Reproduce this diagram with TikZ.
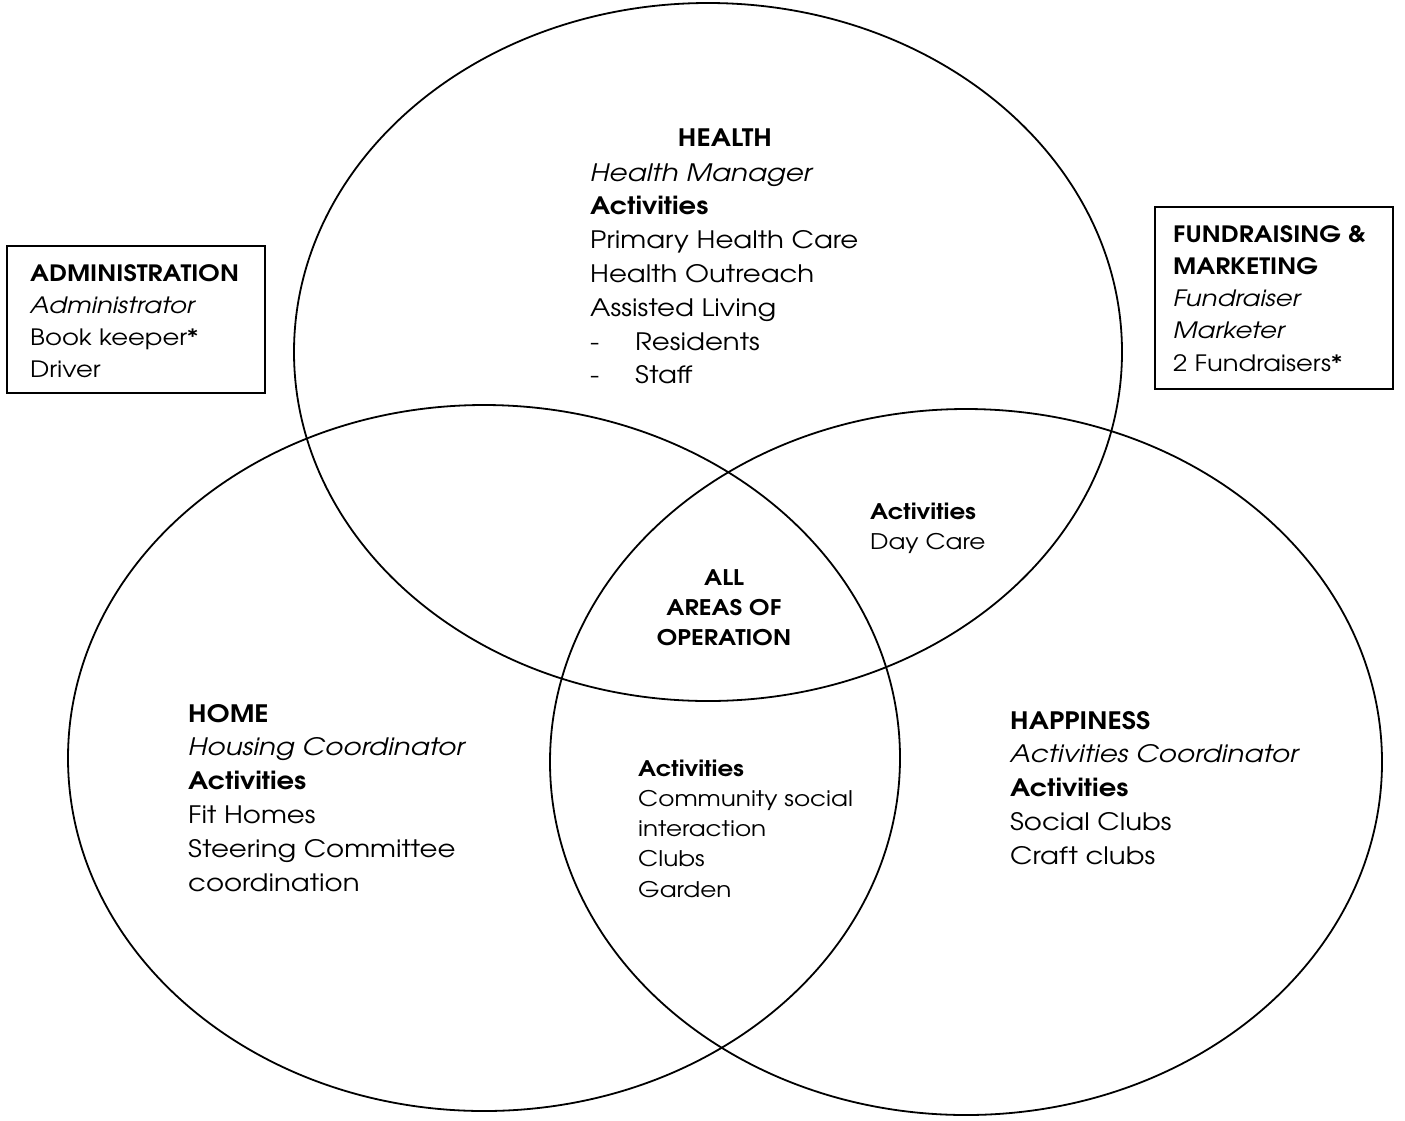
\documentclass[tikz,border=0pt]{standalone}
\usepackage{fontspec}
\setmainfont{texgyreadventor}[Extension=.otf, UprightFont=*-regular, BoldFont=*-bold, ItalicFont=*-italic, BoldItalicFont=*-bolditalic,
  UprightFeatures={FakeStretch=1.15}, ItalicFeatures={FakeStretch=1.16}, BoldFeatures={FakeStretch=1.14}]
\begin{document}
\begin{tikzpicture}[x=1pt,y=-1pt,
  ring/.style={line width=1.8pt},
  frame/.style={line width=1.4pt},
  bigtxt/.style={inner sep=0pt, anchor=base west, font=\fontsize{24}{33.8}\selectfont},
  midtxt/.style={inner sep=0pt, anchor=base west, font=\fontsize{22.5}{32.3}\selectfont},
  smalltxt/.style={inner sep=0pt, anchor=base west, font=\fontsize{21.5}{30.3}\selectfont},
]
\useasboundingbox (0,0) rectangle (1405,1120);
\fill[white] (0,0) rectangle (1405,1120);

% circles
\draw[ring] (708,352) ellipse [x radius=414pt, y radius=349pt];
\draw[ring] (484,758) ellipse [x radius=416pt, y radius=353pt];
\draw[ring] (966,762) ellipse [x radius=416pt, y radius=353pt];

% boxes
\draw[frame] (7,246) rectangle (265,393);
\draw[frame] (1155,207) rectangle (1393,389);

\node[midtxt] (admin) at (30,281) {\parbox[t]{240pt}{\raggedright
\textbf{ADMINISTRATION}\\
\textit{Administrator}\\
Book keeper*\\
Driver}};

\node[midtxt] (fund) at (1173,242) {\parbox[t]{220pt}{\raggedright
\textbf{FUNDRAISING \&}\\
\textbf{MARKETING}\\
\textit{Fundraiser}\\
\textit{Marketer}\\
2 Fundraisers*}};

% health
\node[bigtxt, anchor=base] (healthtitle) at (725,146) {\textbf{HEALTH}};
\node[bigtxt] (health) at (590,181) {\parbox[t]{320pt}{\raggedright
\textit{Health Manager}\\
\textbf{Activities}\\
Primary Health Care\\
Health Outreach\\
Assisted Living\\
\makebox[45pt][l]{-}Residents\\
\makebox[45pt][l]{-}Staff}};

% home
\node[bigtxt] (home) at (188,722) {\parbox[t]{340pt}{\raggedright
\textbf{HOME}\\
\textit{Housing Coordinator}\\
\textbf{Activities}\\
Fit Homes\\
Steering Committee\\
coordination}};

% happiness
\node[bigtxt] (happy) at (1010,729) {\parbox[t]{360pt}{\raggedright
\textbf{HAPPINESS}\\
\textit{Activities Coordinator}\\
\textbf{Activities}\\
Social Clubs\\
Craft clubs}};

% day care
\node[smalltxt] (daycare) at (870,519) {\parbox[t]{200pt}{\raggedright
\textbf{Activities}\\
Day Care}};

% all areas
\node[smalltxt, anchor=base] (all) at (724,585) {\parbox[t]{220pt}{\centering
\textbf{ALL}\\
\textbf{AREAS OF}\\
\textbf{OPERATION}}};

% community
\node[smalltxt] (community) at (638,776) {\parbox[t]{260pt}{\raggedright
\textbf{Activities}\\
Community social\\
interaction\\
Clubs\\
Garden}};
\end{tikzpicture}
\end{document}
